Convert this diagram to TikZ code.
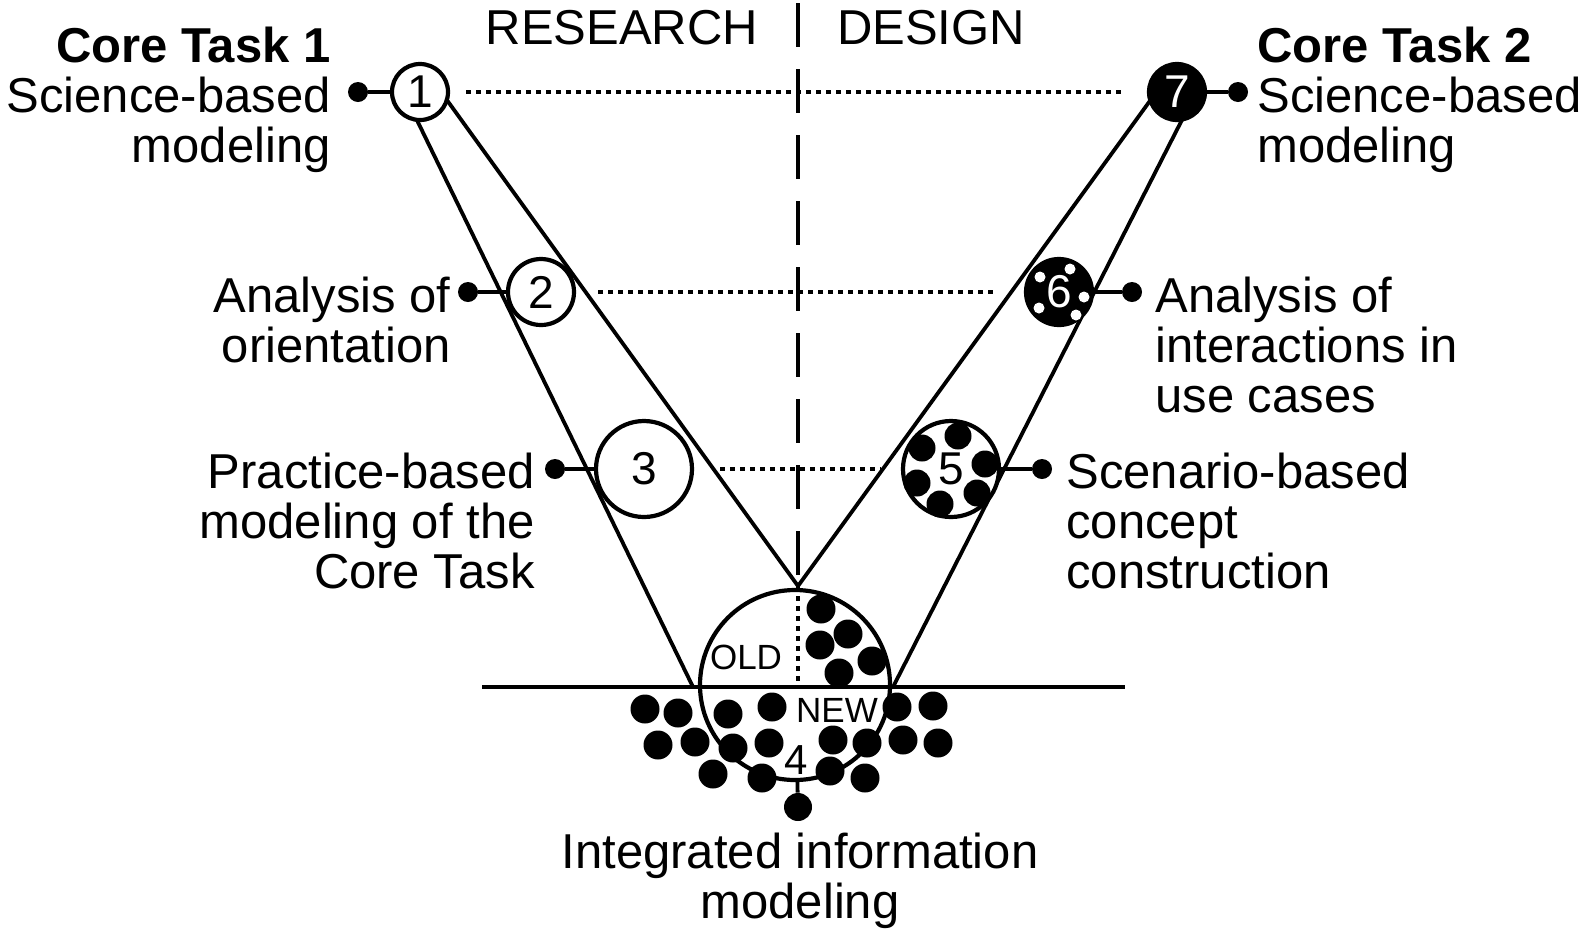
\documentclass[tikz,border=0pt]{standalone}
\usepackage{fontspec}
\setmainfont{Liberation Sans}
\usetikzlibrary{calc}

\tikzstyle{ring} = [circle, draw, line width=2.1pt, fill=white, inner sep=0pt,
font=\fontsize{23}{25}\selectfont]
\tikzstyle{ring_dark} = [ring, fill=black, text=white]
\tikzstyle{pin_dot} = [circle, fill=black, inner sep=0pt, minimum size=10pt]
\tikzstyle{label_l} = [anchor=north east, align=right, inner sep=0pt,
font=\fontsize{24.5}{25}\selectfont]
\tikzstyle{label_r} = [anchor=north west, align=left, inner sep=0pt,
font=\fontsize{24.5}{25}\selectfont]
\tikzstyle{label_c} = [anchor=north, align=center, inner sep=0pt,
font=\fontsize{24.5}{25}\selectfont]
\tikzstyle{small_text} = [inner sep=0pt, font=\fontsize{17.5}{20}\selectfont]
\tikzstyle{line} = [draw, line width=1.9pt]
\tikzstyle{dots} = [draw, line width=2.2pt, dash pattern=on 2.5pt off 2.5pt]
\tikzstyle{dashes} = [draw, line width=2.2pt, dash pattern=on 22pt off 11pt]

\begin{document}
\begin{tikzpicture}[x=0.5pt, y=-0.5pt]
	\useasboundingbox (0,0) rectangle (1589,928);

	%Coordinates
	\coordinate (top) at (798,3);
	\coordinate (apex) at (798,586);
	\coordinate (lo_top) at (413,112);
	\coordinate (lo_bot) at (693,687);
	\coordinate (li_top) at (444,96);
	\coordinate (ro_top) at (1186,112);
	\coordinate (ro_bot) at (893,687);
	\coordinate (ri_top) at (1152,98);
	\coordinate (base_l) at (482,687);
	\coordinate (base_r) at (1125,687);

	%Lines of the V
	\path [line] (lo_top) -- (lo_bot);
	\path [line] (li_top) -- (apex);
	\path [line] (ro_top) -- (ro_bot);
	\path [line] (ri_top) -- (apex);
	\path [dashes] (top) -- (apex);

	%Integrated circle
	\node [ring, minimum size=95pt] (c4) at (795,685) {};
	\path [line] (base_l) -- (base_r);
	\path [dots] (apex) -- (apex |- base_l);

	%Nodes
	\node [ring, minimum size=28pt] (c1) at (420,92) {1};
	\node [ring, minimum size=33pt] (c2) at (541,292) {2};
	\node [ring, minimum size=48pt] (c3) at (644,469) {3};
	\node [ring, minimum size=48pt] (c5) at (951,469) {};
	\node [ring_dark, minimum size=33pt] (c6) at (1059,292) {};
	\node [ring_dark, minimum size=28pt] (c7) at (1177,92) {7};

	% circle 5 and 6 fillings
	\foreach \dx/\dy in {-29/-21, 7/-33, 34/-5, -34/14, 26/24, -11/35}
		\fill ($(c5)+(\dx,\dy)$) circle (13.5);
	\node [ring, draw=none, fill=none] at (c5) {5};
	\foreach \dx/\dy in {-19/-15, 11/-23, 25/5, 17/23, -20/16}
		\fill [white] ($(c6)+(\dx,\dy)$) circle (5.5);
	\node [ring_dark, draw=none, fill=none] at (c6) {6};

	%Dotted rows
	\path [dots, shorten <=8pt, shorten >=11pt] (c1) -- (c7);
	\path [dots, shorten <=11pt, shorten >=13pt] (c2) -- (c6);
	\path [dots, shorten <=13pt, shorten >=10pt] (c3) -- (c5);

	%Pins
	\node [pin_dot] (d1) at (358,92) {};
	\node [pin_dot] (d2) at (468,292) {};
	\node [pin_dot] (d3) at (555,469) {};
	\node [pin_dot] (d5) at (1042,469) {};
	\node [pin_dot] (d6) at (1132,292) {};
	\node [pin_dot] (d7) at (1238,92) {};
	\node [pin_dot, minimum size=14pt] (d4) at (798,807) {};
	\path [line] (d1) -- (c1);
	\path [line] (d2) -- (c2);
	\path [line] (d3) -- (c3);
	\path [line] (d5) -- (c5);
	\path [line] (d6) -- (c6);
	\path [line] (d7) -- (c7);
	\path [line] (d4) -- (c4);

	%Dots of the old and new
	\foreach \x/\y in {821/609, 848/634, 820/645, 872/661, 839/673,
		645/709, 678/713, 728/714, 772/707, 897/707, 933/706,
		658/745, 695/742, 733/748, 769/743, 833/740, 867/743, 903/740, 938/743,
		713/774, 762/778, 830/771, 865/778}
		\fill (\x,\y) circle (14.5);
	\node [small_text] (old) at (746,657) {OLD};
	\node [small_text] (new) at (837,710) {NEW};
	\node [small_text, font=\fontsize{21}{24}\selectfont] (four) at (796,760) {4};

	%Labels
	\node [label_c] (research) at (622,10) {RESEARCH};
	\node [label_c] (design) at (931,10) {DESIGN};
	\node [label_l] (t1) at (331,27) {\textbf{Core Task 1}\\Science-based\\modeling};
	\node [label_r] (t7) at (1257,27) {\textbf{Core Task 2}\\Science-based\\modeling};
	\node [label_l] (t2) at (451,277) {Analysis of\\orientation};
	\node [label_r] (t6) at (1155,277) {Analysis of\\interactions in\\use cases};
	\node [label_l] (t3) at (535,453) {Practice-based\\modeling of the\\Core Task};
	\node [label_r] (t5) at (1066,453) {Scenario-based\\concept\\construction};
	\node [label_c] (t4) at (800,833) {Integrated information\\modeling};

\end{tikzpicture}
\end{document}
